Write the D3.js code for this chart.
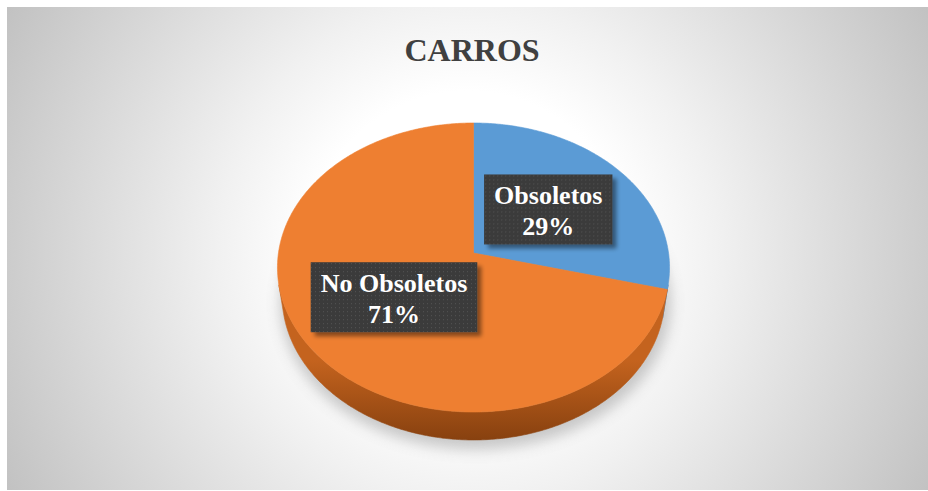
<!DOCTYPE html>
<html>
<head>
<meta charset="utf-8">
<script src="https://cdn.jsdelivr.net/npm/d3@7"></script>
<style>
  html, body { margin: 0; padding: 0; background: #fff; }
  svg { display: block; }
</style>
</head>
<body>
<svg id="chart" width="928" height="491"></svg>
<script>
// Chart data
const title = "CARROS";
const categories = ["Obsoletos", "No Obsoletos"];
const values = [29, 71];
const topColors = ["#5B9BD5", "#EE7F31"];
const sideTop = ["#4a82b8", "#c4631e"];
const sideBottom = ["#2f5a85", "#86400f"];

const W = 928, H = 491;
const svg = d3.select("#chart");
const defs = svg.append("defs");

// Background panel with a soft radial fill
const bg = defs.append("radialGradient").attr("id", "bgGrad")
  .attr("gradientUnits", "userSpaceOnUse")
  .attr("cx", 468).attr("cy", 250).attr("r", 530);
bg.append("stop").attr("offset", 0.3).attr("stop-color", "#ffffff");
bg.append("stop").attr("offset", 0.47).attr("stop-color", "#f1f1f1");
bg.append("stop").attr("offset", 1).attr("stop-color", "#c0c0c0");

svg.append("rect").attr("x", 7).attr("y", 7).attr("width", W - 7).attr("height", H - 8)
  .attr("fill", "url(#bgGrad)");

// Title
svg.append("text")
  .attr("x", 472).attr("y", 61)
  .attr("text-anchor", "middle")
  .attr("font-family", "'Liberation Serif', 'Times New Roman', serif")
  .attr("font-weight", "bold")
  .attr("font-size", 32)
  .attr("fill", "#404040")
  .text(title);

// Perspective projection of a flat disc seen from above and in front
const cx = 473.5, cy = 253;
const alpha = Math.asin(0.7335);
const sa = Math.sin(alpha), ca = Math.cos(alpha);
const D = 6.773;           // camera distance in disc radii
const F = 1321;            // focal length in pixels
const thick = 0.224;       // disc thickness in radii

// theta: clockwise from 12 o'clock; r: radius fraction; w: height (0 = top face)
function proj(theta, r, w) {
  const u = r * Math.sin(theta);
  const v = -r * Math.cos(theta);
  const yc = v * sa - w * ca;
  const zc = D - v * ca - w * sa;
  return [cx + F * u / zc, cy + F * yc / zc];
}

const pie = d3.pie().sort(null).startAngle(0).endAngle(2 * Math.PI);
const arcs = pie(values);

function samples(a0, a1) {
  const n = Math.max(2, Math.ceil((a1 - a0) / 0.01));
  return d3.range(n + 1).map(i => a0 + (a1 - a0) * i / n);
}
const line = d3.line();

// Shadow cast beneath the disc
const shadow = defs.append("filter").attr("id", "shadowBlur")
  .attr("x", "-20%").attr("y", "-20%").attr("width", "140%").attr("height", "140%");
shadow.append("feGaussianBlur").attr("stdDeviation", 7);
svg.append("path")
  .attr("d", line(samples(0, 2 * Math.PI).map(t => {
    const p = proj(t, 1.02, -thick);
    return [p[0] + 2, p[1] + 6];
  })) + "Z")
  .attr("fill", "#8a8a8a")
  .attr("opacity", 0.45)
  .attr("filter", "url(#shadowBlur)");

// Visible range of the outer wall
const tMin = Math.acos(-1 / (D * ca));
const tMax = 2 * Math.PI - tMin;

arcs.forEach((a, i) => {
  const g = defs.append("linearGradient").attr("id", "side" + i)
    .attr("gradientUnits", "userSpaceOnUse")
    .attr("x1", 0).attr("y1", 360).attr("x2", 0).attr("y2", 442);
  g.append("stop").attr("offset", 0).attr("stop-color", sideTop[i]);
  g.append("stop").attr("offset", 1).attr("stop-color", sideBottom[i]);

  const a0 = Math.max(a.startAngle, tMin), a1 = Math.min(a.endAngle, tMax);
  if (a1 <= a0) return;
  const ts = samples(a0, a1);
  const pts = ts.map(t => proj(t, 1, 0)).concat(ts.slice().reverse().map(t => proj(t, 1, -thick)));
  svg.append("path").attr("d", line(pts) + "Z")
    .attr("fill", `url(#side${i})`)
    .attr("stroke", `url(#side${i})`).attr("stroke-width", 0.6);
});

// Top faces
arcs.forEach((a, i) => {
  const pts = [proj(0, 0, 0)].concat(samples(a.startAngle, a.endAngle).map(t => proj(t, 1, 0)));
  svg.append("path").attr("d", line(pts) + "Z")
    .attr("fill", topColors[i])
    .attr("stroke", topColors[i]).attr("stroke-width", 0.6);
});

// Data labels: dark dotted boxes with drop shadows
const pat = defs.append("pattern").attr("id", "dots")
  .attr("patternUnits", "userSpaceOnUse").attr("width", 4).attr("height", 4);
pat.append("rect").attr("width", 4).attr("height", 4).attr("fill", "#3b3b3b");
pat.append("rect").attr("x", 1).attr("y", 1).attr("width", 1).attr("height", 1).attr("fill", "#555555");

const ds = defs.append("filter").attr("id", "boxShadow")
  .attr("x", "-20%").attr("y", "-30%").attr("width", "150%").attr("height", "170%");
ds.append("feGaussianBlur").attr("in", "SourceAlpha").attr("stdDeviation", 2).attr("result", "b");
ds.append("feOffset").attr("in", "b").attr("dx", 4).attr("dy", 4).attr("result", "o");
ds.append("feComponentTransfer").attr("in", "o").attr("result", "s")
  .append("feFuncA").attr("type", "linear").attr("slope", 0.45);
const m = ds.append("feMerge");
m.append("feMergeNode").attr("in", "s");
m.append("feMergeNode").attr("in", "SourceGraphic");

const total = d3.sum(values);
arcs.forEach((a, i) => {
  const mid = (a.startAngle + a.endAngle) / 2;
  const [lx, ly] = proj(mid, 0.5, 0);
  const g = svg.append("g").attr("transform", `translate(${lx},${ly})`);
  const rect = g.append("rect").attr("fill", "url(#dots)").attr("filter", "url(#boxShadow)");
  const txt = g.append("text")
    .attr("text-anchor", "middle")
    .attr("font-family", "'Liberation Serif', 'Times New Roman', serif")
    .attr("font-weight", "bold")
    .attr("font-size", 26)
    .attr("fill", "#ffffff");
  txt.append("tspan").attr("x", 0).attr("y", -6).text(categories[i]);
  txt.append("tspan").attr("x", 0).attr("y", 24.5).text(Math.round(values[i] / total * 100) + "%");
  const bb = txt.node().getBBox();
  const bw = bb.width + 20, bh = 70;
  rect.attr("x", -bw / 2).attr("y", -bh / 2 - 1).attr("width", bw).attr("height", bh);
});
</script>
</body>
</html>
